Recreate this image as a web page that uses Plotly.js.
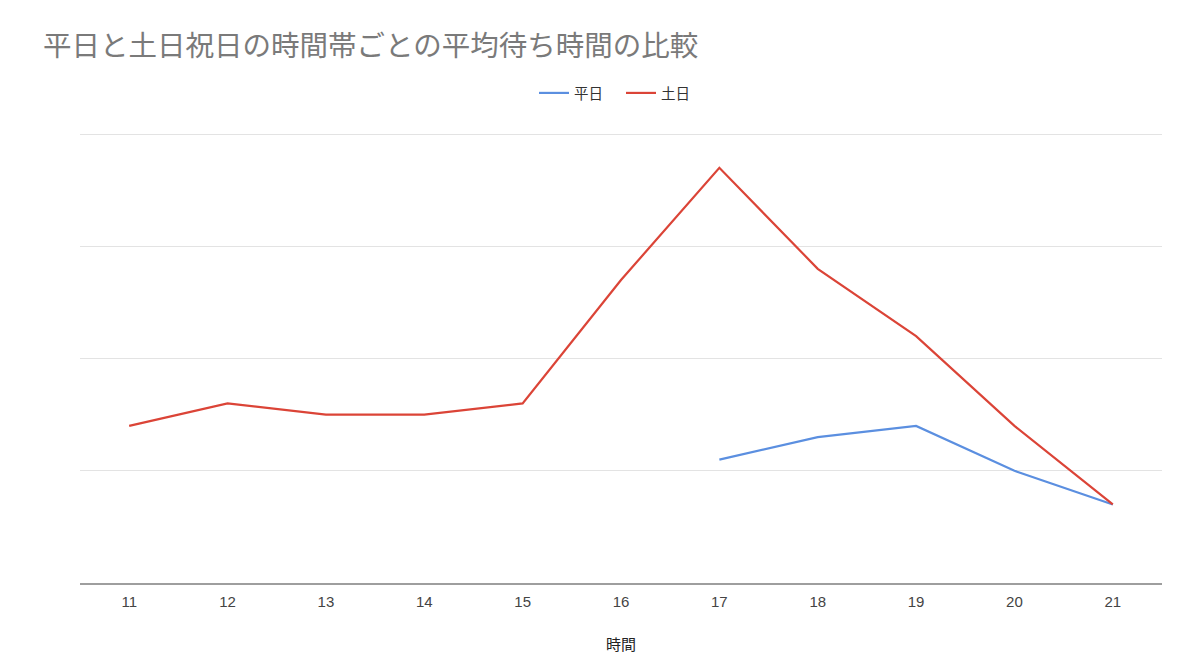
<!DOCTYPE html>
<html>
<head>
<meta charset="utf-8">
<script src="https://cdn.plot.ly/plotly-3.0.1.min.js"></script>
<style>html,body{margin:0;padding:0;background:#fff;}#chart{width:1200px;height:662px;}</style>
</head>
<body>
<div id="chart"></div>
<script>
const hours = ["11","12","13","14","15","16","17","18","19","20","21"];
const weekday = [null,null,null,null,null,null,1.1,1.3,1.4,1.0,0.7];
const weekend = [1.4,1.6,1.5,1.5,1.6,2.7,3.7,2.8,2.2,1.4,0.7];
const seriesNames = ["平日","土日"];
const titleText = "平日と土日祝日の時間帯ごとの平均待ち時間の比較";
const xTitle = "時間";

const font = "'Noto Sans CJK JP', 'Liberation Sans', sans-serif";

const traces = [
  {x: hours, y: weekday, name: seriesNames[0], type: "scatter", mode: "lines",
   line: {color: "#5b8fe0", width: 2.2}, connectgaps: false},
  {x: hours, y: weekend, name: seriesNames[1], type: "scatter", mode: "lines",
   line: {color: "#db4437", width: 2.2}}
];

const layout = {
  width: 1200, height: 662,
  margin: {l: 80, r: 38, t: 133, b: 79},
  paper_bgcolor: "#fff", plot_bgcolor: "#fff",
  title: {text: titleText, x: 43/1200, xanchor: "left", y: 1-46/662, yanchor: "middle",
          font: {family: font, size: 28.5, color: "#7a7a7a"}},
  showlegend: true,
  legend: {orientation: "h", x: 0.5, xanchor: "center", y: 1-93/662, yref: "container", yanchor: "middle",
           font: {family: font, size: 14.5, color: "#333"}, itemwidth: 30,
           entrywidth: 42, entrywidthmode: "pixels", traceorder: "normal"},
  xaxis: {type: "category", range: [-0.5, 10.5], showgrid: false, zeroline: false,
          showline: true, linecolor: "#9e9e9e", linewidth: 2,
          ticks: "", ticklabelstandoff: 4,
          tickfont: {family: "'Liberation Sans', Arial, sans-serif", size: 15, color: "#444"},
          title: {text: xTitle, standoff: 30, font: {family: font, size: 15, color: "#222"}}},
  yaxis: {range: [0, 4.01], dtick: 1, showticklabels: false, showgrid: true, gridcolor: "#e3e3e3", gridwidth: 1,
          zeroline: false, showline: false, ticks: ""},
  hovermode: false
};

Plotly.newPlot("chart", traces, layout, {displayModeBar: false, staticPlot: true});
</script>
</body>
</html>
